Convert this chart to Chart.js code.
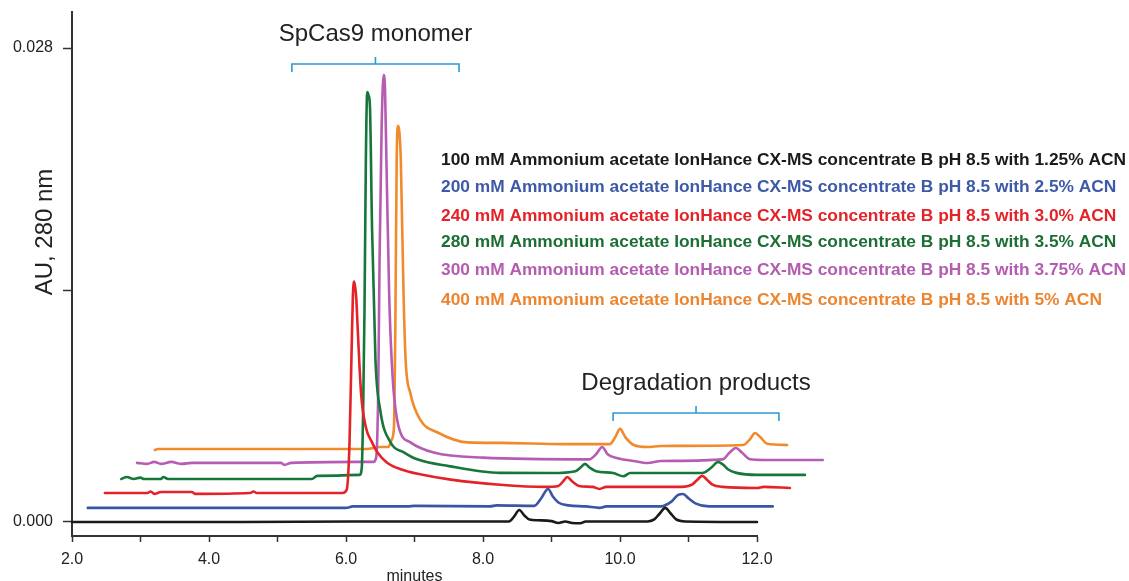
<!DOCTYPE html>
<html>
<head>
<meta charset="utf-8">
<title>SpCas9 chromatograms</title>
<script src="https://cdn.jsdelivr.net/npm/chart.js@4.4.1/dist/chart.umd.min.js"></script>
<style>
    html, body { margin: 0; padding: 0; background: #ffffff; }
    #chart { display: block; }
</style>
</head>
<body>
<canvas id="chart" width="1129" height="581"></canvas>
<script>
// Traces: [minutes, AU at 280 nm] (stacked offsets included)
const black = [
    [2.0, 0.0], [4.5, 0.0], [6.1, 0.00003], [8.38, 0.00003], [8.45, 0.0003], [8.53, 0.00071],
    [8.6, 0.0004], [8.68, 0.00014], [8.8, 0.0001], [9.0, 0.00005], [9.1, -0.00006], [9.2, 0.00003],
    [9.3, -0.00006], [9.42, -0.00008], [9.5, 0.00003], [10.4, 0.00003], [10.5, 0.00015],
    [10.58, 0.0005], [10.66, 0.00083], [10.74, 0.0005], [10.82, 0.00015], [10.95, 0.00003], [12.0, 0.0]
];
const blue = [
    [2.23, 0.00083], [6.0, 0.00083], [6.1, 0.00092], [6.9, 0.00092], [7.0, 0.00095], [8.1, 0.00092],
    [8.2, 0.00098], [8.75, 0.00095], [8.85, 0.0014], [8.95, 0.00195], [9.02, 0.0015], [9.1, 0.00115],
    [9.25, 0.00098], [9.5, 0.00092], [9.7, 0.00083], [9.8, 0.00092], [10.6, 0.00092], [10.75, 0.0012],
    [10.85, 0.0016], [10.92, 0.00165], [11.0, 0.0014], [11.1, 0.0011], [11.3, 0.00092], [12.23, 0.00092]
];
const red = [
    [2.48, 0.00171], [3.1, 0.00171], [3.15, 0.0018], [3.2, 0.00166], [3.3, 0.00177], [3.75, 0.00177],
    [3.8, 0.00166], [4.6, 0.00171], [4.65, 0.0018], [4.7, 0.00171], [5.95, 0.00171], [6.01, 0.0019],
    [6.05, 0.0045], [6.08, 0.0098], [6.1, 0.0133], [6.12, 0.0142], [6.15, 0.0132], [6.17, 0.0115],
    [6.22, 0.0076], [6.29, 0.0056], [6.38, 0.0047], [6.46, 0.0041], [6.6, 0.0035], [6.81, 0.0031],
    [7.1, 0.0028], [7.53, 0.0025], [8.25, 0.0022], [8.9, 0.00207], [9.1, 0.00213], [9.17, 0.0024],
    [9.23, 0.00266], [9.3, 0.0024], [9.4, 0.00213], [9.6, 0.00207], [9.7, 0.00195], [9.8, 0.00207],
    [10.9, 0.00207], [11.05, 0.0022], [11.13, 0.0025], [11.2, 0.00272], [11.27, 0.0025], [11.35, 0.0022],
    [11.5, 0.00207], [12.0, 0.00201], [12.1, 0.00207], [12.48, 0.00201]
];
const green = [
    [2.72, 0.00254], [2.8, 0.00266], [2.9, 0.00254], [3.0, 0.00262], [3.05, 0.00254], [3.3, 0.00254],
    [3.33, 0.00266], [3.4, 0.00254], [5.5, 0.00254], [5.58, 0.00272], [6.2, 0.00278], [6.23, 0.0032],
    [6.25, 0.0065], [6.27, 0.0125], [6.29, 0.0214], [6.31, 0.0254], [6.33, 0.0252], [6.35, 0.0245],
    [6.38, 0.0174], [6.43, 0.0096], [6.5, 0.0066], [6.65, 0.0047], [6.85, 0.0041], [7.04, 0.0037],
    [7.5, 0.0033], [8.25, 0.0029], [9.0, 0.00289], [9.35, 0.003], [9.42, 0.0032], [9.49, 0.00343],
    [9.56, 0.0032], [9.65, 0.003], [9.9, 0.00289], [10.05, 0.0027], [10.15, 0.00289], [11.2, 0.00289],
    [11.33, 0.0032], [11.43, 0.00354], [11.5, 0.0034], [11.58, 0.0031], [11.7, 0.0029], [12.0, 0.00278],
    [12.7, 0.00278]
];
const purple = [
    [2.95, 0.00349], [3.1, 0.00343], [3.2, 0.00355], [3.3, 0.00343], [3.45, 0.00355], [3.6, 0.00343],
    [3.75, 0.00349], [5.05, 0.00349], [5.1, 0.00337], [5.2, 0.00349], [6.2, 0.00355], [6.4, 0.00355],
    [6.44, 0.0038], [6.47, 0.0076], [6.49, 0.0155], [6.52, 0.0233], [6.55, 0.0264], [6.57, 0.0255],
    [6.59, 0.0214], [6.63, 0.0135], [6.68, 0.0086], [6.77, 0.0056], [6.94, 0.0047], [7.28, 0.0041],
    [8.0, 0.0038], [9.55, 0.0037], [9.65, 0.004], [9.74, 0.00443], [9.82, 0.004], [9.95, 0.00378],
    [10.2, 0.0036], [10.4, 0.00348], [10.6, 0.0036], [11.5, 0.0037], [11.6, 0.0041], [11.69, 0.00437],
    [11.78, 0.0041], [11.9, 0.0037], [12.1, 0.00366], [12.96, 0.00366]
];
const orange = [
    [3.21, 0.00425], [3.25, 0.00431], [6.3, 0.00431], [6.5, 0.00443], [6.62, 0.00443], [6.67, 0.0049],
    [6.7, 0.0056], [6.72, 0.0115], [6.74, 0.0214], [6.76, 0.0234], [6.78, 0.023], [6.8, 0.0214],
    [6.84, 0.0135], [6.87, 0.0096], [6.94, 0.0076], [7.09, 0.006], [7.33, 0.0053], [7.77, 0.0047],
    [8.25, 0.00467], [9.2, 0.0046], [9.85, 0.0046], [9.93, 0.005], [10.0, 0.0055], [10.08, 0.005],
    [10.2, 0.00455], [10.4, 0.00443], [10.6, 0.00449], [11.8, 0.00455], [11.9, 0.0049], [11.97, 0.00526],
    [12.05, 0.005], [12.15, 0.00462], [12.44, 0.00455]
];

const seriesLabels = [
    "100 mM Ammonium acetate IonHance CX-MS concentrate B pH 8.5 with 1.25% ACN",
    "200 mM Ammonium acetate IonHance CX-MS concentrate B pH 8.5 with 2.5% ACN",
    "240 mM Ammonium acetate IonHance CX-MS concentrate B pH 8.5 with 3.0% ACN",
    "280 mM Ammonium acetate IonHance CX-MS concentrate B pH 8.5 with 3.5% ACN",
    "300 mM Ammonium acetate IonHance CX-MS concentrate B pH 8.5 with 3.75% ACN",
    "400 mM Ammonium acetate IonHance CX-MS concentrate B pH 8.5 with 5% ACN"
];
const xTickLabels = ["2.0", "", "4.0", "", "6.0", "", "8.0", "", "10.0", "", "12.0"];
const yTickValues = [0, 0.0137, 0.028];
const yTickLabels = ["0.000", "", "0.028"];

// Bracket spans in minutes
const monomerSpan = [5.21, 7.65];
const degradationSpan = [9.9, 12.32];

document.addEventListener("DOMContentLoaded", function () {
    const traces = [black, blue, red, green, purple, orange];
    const lineColors = ["#1a1a1a", "#3a55a3", "#e42328", "#17773a", "#b65db3", "#f18a2b"];
    const textColors = ["#1a1a1a", "#3d59a8", "#e42328", "#1c6e35", "#b35cb0", "#ec8530"];

    const datasets = traces.map((trace, i) => ({
        label: seriesLabels[i],
        data: trace.map(p => ({ x: p[0], y: p[1] })),
        borderColor: lineColors[i],
        borderWidth: 2.6,
        pointRadius: 0,
        cubicInterpolationMode: "monotone",
        borderJoinStyle: "round",
        borderCapStyle: "round",
        fill: false,
        clip: false
    }));

    // Text, brackets and coloured legend drawn on top of the chart
    const annotations = {
        id: "annotations",
        afterDraw(chart) {
            const ctx = chart.ctx;
            const xs = chart.scales.x;

            ctx.save();
            // y axis title
            ctx.fillStyle = "#222";
            ctx.font = '24px "Liberation Sans", Arial, sans-serif';
            ctx.textAlign = "center";
            ctx.textBaseline = "middle";
            ctx.translate(45, 232);
            ctx.rotate(-Math.PI / 2);
            ctx.fillText("AU, 280 nm", 0, 0);
            ctx.restore();

            function bracket(span, y, label, textY) {
                const x1 = xs.getPixelForValue(span[0]);
                const x2 = xs.getPixelForValue(span[1]);
                const mid = (x1 + x2) / 2;
                ctx.save();
                ctx.strokeStyle = "#2b9bd2";
                ctx.lineWidth = 1.6;
                ctx.beginPath();
                ctx.moveTo(x1, y + 8);
                ctx.lineTo(x1, y);
                ctx.lineTo(x2, y);
                ctx.lineTo(x2, y + 8);
                ctx.moveTo(mid, y);
                ctx.lineTo(mid, y - 7);
                ctx.stroke();
                ctx.fillStyle = "#222";
                ctx.font = '24px "Liberation Sans", Arial, sans-serif';
                ctx.textAlign = "center";
                ctx.textBaseline = "middle";
                ctx.fillText(label, mid, textY);
                ctx.restore();
            }
            bracket(monomerSpan, 64, "SpCas9 monomer", 34);
            bracket(degradationSpan, 413, "Degradation products", 383);

            // Legend rows
            ctx.save();
            ctx.font = 'bold 16px "Liberation Sans", Arial, sans-serif';
            ctx.textAlign = "left";
            ctx.textBaseline = "middle";
            const stretch = 685 / ctx.measureText(seriesLabels[0]).width;
            const rowY = [161, 188, 217, 243, 271, 301];
            seriesLabels.forEach((text, i) => {
                ctx.save();
                ctx.translate(441, rowY[i]);
                ctx.scale(stretch, 1);
                ctx.fillStyle = textColors[i];
                ctx.fillText(text, 0, 0);
                ctx.restore();
            });
            ctx.restore();
        }
    };

    new Chart(document.getElementById("chart"), {
        type: "line",
        data: { datasets: datasets },
        options: {
            responsive: false,
            animation: false,
            devicePixelRatio: 1,
            layout: { padding: { top: 12, right: 372, left: 0, bottom: 0 } },
            plugins: {
                legend: { display: false },
                tooltip: { enabled: false }
            },
            scales: {
                x: {
                    type: "linear",
                    // range set here so traces running past 12 min are still drawn
                    afterDataLimits: scale => { scale.min = 2; scale.max = 12; },
                    afterFit: scale => {
                        scale.height = 45;
                        scale.paddingLeft = 0;
                        scale.paddingRight = 0;
                    },
                    ticks: {
                        stepSize: 1,
                        autoSkip: false,
                        maxRotation: 0,
                        padding: 8,
                        color: "#222",
                        font: { family: '"Liberation Sans", Arial, sans-serif', size: 16 },
                        callback: (value, index) => xTickLabels[index]
                    },
                    grid: {
                        drawOnChartArea: false,
                        tickLength: 6,
                        tickColor: "#333",
                        tickWidth: 1.5
                    },
                    border: { color: "#333", width: 2 },
                    title: {
                        display: true,
                        text: "minutes",
                        color: "#222",
                        font: { family: '"Liberation Sans", Arial, sans-serif', size: 16, lineHeight: 1 },
                        padding: { top: 0, bottom: -4 }
                    }
                },
                y: {
                    min: -0.00083,
                    max: 0.03013,
                    afterFit: scale => {
                        scale.width = 72;
                        scale.paddingTop = 0;
                        scale.paddingBottom = 0;
                    },
                    afterBuildTicks: scale => {
                        scale.ticks = yTickValues.map(v => ({ value: v }));
                    },
                    ticks: {
                        padding: 10,
                        color: "#222",
                        font: { family: '"Liberation Sans", Arial, sans-serif', size: 16 },
                        callback: (value, index) => yTickLabels[index]
                    },
                    grid: {
                        drawOnChartArea: false,
                        tickLength: 9,
                        tickColor: "#333",
                        tickWidth: 1.5
                    },
                    border: { color: "#333", width: 2 }
                }
            }
        },
        plugins: [annotations]
    });
});
</script>
</body>
</html>
